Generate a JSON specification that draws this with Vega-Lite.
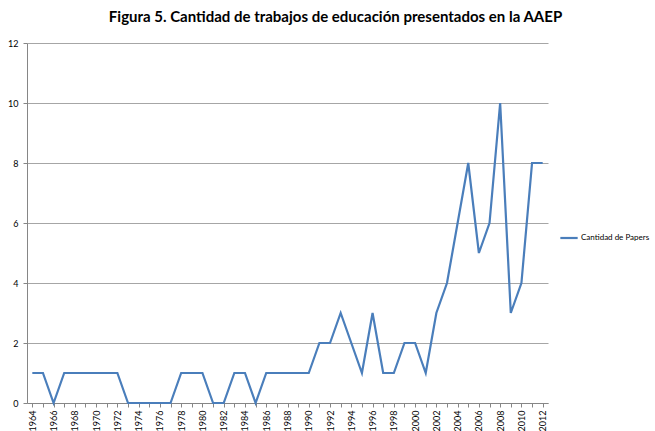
{
  "$schema": "https://vega.github.io/schema/vega-lite/v6.json",
  "width": 521,
  "height": 360,
  "autosize": {"type": "none"},
  "padding": {"left": 27, "top": 43, "right": 107, "bottom": 28},
  "title": {
    "text": "Figura 5. Cantidad de trabajos de educación presentados en la AAEP",
    "font": "Lato",
    "fontSize": 15,
    "fontWeight": "bold",
    "color": "#000000",
    "anchor": "middle",
    "dx": 48,
    "offset": 14
  },
  "data": {
    "values": [
      {"year": "1964", "value": 1, "series": "Cantidad de Papers"},
      {"year": "1965", "value": 1, "series": "Cantidad de Papers"},
      {"year": "1966", "value": 0, "series": "Cantidad de Papers"},
      {"year": "1967", "value": 1, "series": "Cantidad de Papers"},
      {"year": "1968", "value": 1, "series": "Cantidad de Papers"},
      {"year": "1969", "value": 1, "series": "Cantidad de Papers"},
      {"year": "1970", "value": 1, "series": "Cantidad de Papers"},
      {"year": "1971", "value": 1, "series": "Cantidad de Papers"},
      {"year": "1972", "value": 1, "series": "Cantidad de Papers"},
      {"year": "1973", "value": 0, "series": "Cantidad de Papers"},
      {"year": "1974", "value": 0, "series": "Cantidad de Papers"},
      {"year": "1975", "value": 0, "series": "Cantidad de Papers"},
      {"year": "1976", "value": 0, "series": "Cantidad de Papers"},
      {"year": "1977", "value": 0, "series": "Cantidad de Papers"},
      {"year": "1978", "value": 1, "series": "Cantidad de Papers"},
      {"year": "1979", "value": 1, "series": "Cantidad de Papers"},
      {"year": "1980", "value": 1, "series": "Cantidad de Papers"},
      {"year": "1981", "value": 0, "series": "Cantidad de Papers"},
      {"year": "1982", "value": 0, "series": "Cantidad de Papers"},
      {"year": "1983", "value": 1, "series": "Cantidad de Papers"},
      {"year": "1984", "value": 1, "series": "Cantidad de Papers"},
      {"year": "1985", "value": 0, "series": "Cantidad de Papers"},
      {"year": "1986", "value": 1, "series": "Cantidad de Papers"},
      {"year": "1987", "value": 1, "series": "Cantidad de Papers"},
      {"year": "1988", "value": 1, "series": "Cantidad de Papers"},
      {"year": "1989", "value": 1, "series": "Cantidad de Papers"},
      {"year": "1990", "value": 1, "series": "Cantidad de Papers"},
      {"year": "1991", "value": 2, "series": "Cantidad de Papers"},
      {"year": "1992", "value": 2, "series": "Cantidad de Papers"},
      {"year": "1993", "value": 3, "series": "Cantidad de Papers"},
      {"year": "1994", "value": 2, "series": "Cantidad de Papers"},
      {"year": "1995", "value": 1, "series": "Cantidad de Papers"},
      {"year": "1996", "value": 3, "series": "Cantidad de Papers"},
      {"year": "1997", "value": 1, "series": "Cantidad de Papers"},
      {"year": "1998", "value": 1, "series": "Cantidad de Papers"},
      {"year": "1999", "value": 2, "series": "Cantidad de Papers"},
      {"year": "2000", "value": 2, "series": "Cantidad de Papers"},
      {"year": "2001", "value": 1, "series": "Cantidad de Papers"},
      {"year": "2002", "value": 3, "series": "Cantidad de Papers"},
      {"year": "2003", "value": 4, "series": "Cantidad de Papers"},
      {"year": "2004", "value": 6, "series": "Cantidad de Papers"},
      {"year": "2005", "value": 8, "series": "Cantidad de Papers"},
      {"year": "2006", "value": 5, "series": "Cantidad de Papers"},
      {"year": "2007", "value": 6, "series": "Cantidad de Papers"},
      {"year": "2008", "value": 10, "series": "Cantidad de Papers"},
      {"year": "2009", "value": 3, "series": "Cantidad de Papers"},
      {"year": "2010", "value": 4, "series": "Cantidad de Papers"},
      {"year": "2011", "value": 8, "series": "Cantidad de Papers"},
      {"year": "2012", "value": 8, "series": "Cantidad de Papers"}
    ]
  },
  "mark": {"type": "line", "strokeWidth": 2.2},
  "encoding": {
    "x": {
      "field": "year",
      "type": "ordinal",
      "scale": {"type": "point", "padding": 0.5},
      "axis": {
        "title": null,
        "labelAngle": -90,
        "labelFont": "Lato",
        "labelFontSize": 9,
        "labelColor": "#000000",
        "labelExpr": "parseInt(datum.value) % 2 == 0 ? datum.value : ''",
        "labelPadding": 3,
        "tickSize": 4,
        "tickColor": "#868686",
        "domainColor": "#868686",
        "grid": false
      }
    },
    "y": {
      "field": "value",
      "type": "quantitative",
      "scale": {"domain": [0, 12], "nice": false},
      "axis": {
        "title": null,
        "values": [0, 2, 4, 6, 8, 10, 12],
        "labelFont": "Lato",
        "labelFontSize": 9,
        "labelColor": "#000000",
        "labelPadding": 5,
        "tickSize": 4,
        "tickColor": "#868686",
        "domainColor": "#868686",
        "gridColor": "#a6a6a6",
        "gridWidth": 1
      }
    },
    "color": {
      "field": "series",
      "type": "nominal",
      "scale": {"range": ["#4a7ebb"]},
      "legend": {
        "title": null,
        "orient": "none",
        "legendX": 532,
        "legendY": 185,
        "symbolType": "stroke",
        "symbolSize": 300,
        "symbolStrokeWidth": 2.2,
        "labelFont": "Lato",
        "labelFontSize": 8,
        "labelColor": "#000000",
        "labelOffset": 2
      }
    }
  },
  "config": {
    "view": {"stroke": null},
    "background": "#ffffff"
  }
}
